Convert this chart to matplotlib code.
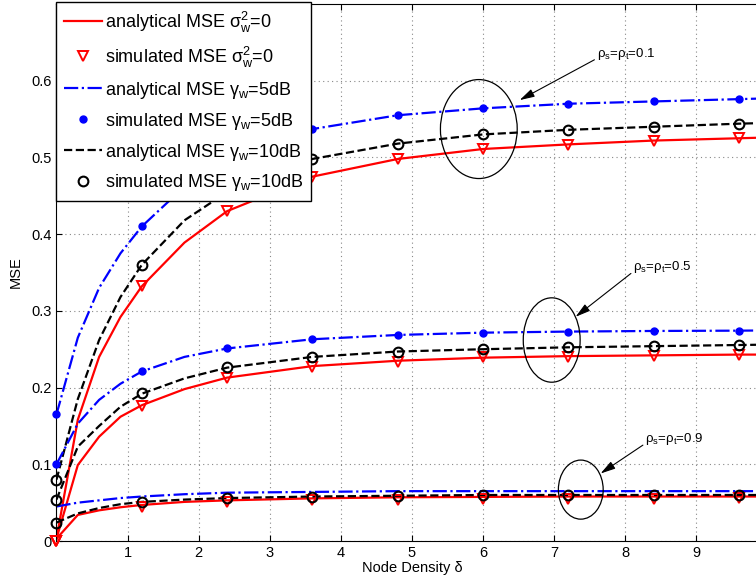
import numpy as np
import matplotlib
matplotlib.use("Agg")
import matplotlib.pyplot as plt
from matplotlib.patches import Ellipse

plt.rcParams["font.family"] = ["Liberation Sans", "DejaVu Sans"]
plt.rcParams["mathtext.fontset"] = "custom"
plt.rcParams["mathtext.rm"] = "Liberation Sans"
plt.rcParams["mathtext.it"] = "Liberation Sans"
plt.rcParams["mathtext.default"] = "regular"

# node density grid of the analytical curves
x_ana = [0, 0.3, 0.6, 0.9, 1.2, 1.8, 2.4, 3.6, 4.8, 6.0, 7.2, 8.4, 9.6, 10.0]
# node density of the simulated points
x_sim = [0, 1.2, 2.4, 3.6, 4.8, 6.0, 7.2, 8.4, 9.6]

# rho = 0.1
ana_noiseless_01 = [0.003, 0.158, 0.240, 0.292, 0.332, 0.389, 0.430, 0.475, 0.498, 0.511, 0.517, 0.522, 0.525, 0.526]
ana_10db_01 = [0.080, 0.185, 0.262, 0.318, 0.360, 0.418, 0.455, 0.498, 0.518, 0.530, 0.536, 0.540, 0.544, 0.545]
ana_5db_01 = [0.165, 0.265, 0.330, 0.375, 0.410, 0.462, 0.495, 0.537, 0.555, 0.564, 0.570, 0.573, 0.576, 0.577]
sim_noiseless_01 = [0.0, 0.332, 0.430, 0.475, 0.498, 0.511, 0.516, 0.522, 0.525]
sim_10db_01 = [0.080, 0.360, 0.455, 0.498, 0.518, 0.530, 0.536, 0.540, 0.544]
sim_5db_01 = [0.165, 0.410, 0.495, 0.537, 0.555, 0.564, 0.570, 0.573, 0.576]

# rho = 0.5
ana_noiseless_05 = [0.003, 0.099, 0.136, 0.162, 0.177, 0.198, 0.213, 0.228, 0.235, 0.239, 0.241, 0.242, 0.243, 0.243]
ana_10db_05 = [0.054, 0.123, 0.150, 0.175, 0.192, 0.212, 0.226, 0.240, 0.247, 0.250, 0.2525, 0.254, 0.2555, 0.256]
ana_5db_05 = [0.100, 0.153, 0.184, 0.205, 0.221, 0.240, 0.251, 0.263, 0.2686, 0.2716, 0.273, 0.2738, 0.2742, 0.2745]
sim_noiseless_05 = [0.0, 0.176, 0.213, 0.227, 0.234, 0.2395, 0.2403, 0.2412, 0.2425]
sim_10db_05 = [0.054, 0.1925, 0.2264, 0.240, 0.2468, 0.2503, 0.2525, 0.2542, 0.2555]
sim_5db_05 = [0.100, 0.2216, 0.2516, 0.263, 0.2686, 0.2716, 0.273, 0.2738, 0.2742]

# rho = 0.9
ana_noiseless_09 = [0.003, 0.034, 0.040, 0.044, 0.047, 0.051, 0.053, 0.0556, 0.057, 0.0575, 0.058, 0.058, 0.058, 0.058]
ana_10db_09 = [0.024, 0.036, 0.043, 0.048, 0.051, 0.054, 0.056, 0.058, 0.059, 0.060, 0.060, 0.060, 0.060, 0.060]
ana_5db_09 = [0.045, 0.050, 0.053, 0.056, 0.058, 0.061, 0.063, 0.064, 0.065, 0.065, 0.065, 0.065, 0.065, 0.065]
sim_noiseless_09 = [0.0, 0.044, 0.051, 0.053, 0.054, 0.055, 0.055, 0.055, 0.056]
sim_10db_09 = [0.024, 0.051, 0.0556, 0.0578, 0.059, 0.060, 0.060, 0.060, 0.060]

legend_labels = [
    "analytical MSE $\\sigma_w^2$=0",
    "simulated MSE $\\sigma_w^2$=0",
    "analytical MSE $\\gamma_w$=5dB",
    "simulated MSE $\\gamma_w$=5dB",
    "analytical MSE $\\gamma_w$=10dB",
    "simulated MSE $\\gamma_w$=10dB",
]
y_ticks = [0, 0.1, 0.2, 0.3, 0.4, 0.5, 0.6]
y_tick_labels = ["0", "0.1", "0.2", "0.3", "0.4", "0.5", "0.6"]
x_ticks = [1, 2, 3, 4, 5, 6, 7, 8, 9]

fig = plt.figure(figsize=(7.56, 5.88), dpi=100)
ax = fig.add_axes([0.0747, 0.0799, 0.9405, 0.9133])

lw = 1.6
red_tri = dict(marker="v", linestyle="none", markerfacecolor="none", markeredgecolor="red",
               markersize=7, markeredgewidth=1.4, clip_on=False, zorder=4)
blue_dot = dict(marker="o", linestyle="none", color="blue", markersize=5, clip_on=False, zorder=4)
black_circ = dict(marker="o", linestyle="none", markerfacecolor="none", markeredgecolor="black",
                  markersize=7, markeredgewidth=1.5, clip_on=False, zorder=4)

h1, = ax.plot(x_ana, ana_noiseless_01, color="red", lw=lw)
h2, = ax.plot(x_sim, sim_noiseless_01, **red_tri)
h3, = ax.plot(x_ana, ana_5db_01, color="blue", lw=lw, linestyle="-.")
h4, = ax.plot(x_sim, sim_5db_01, **blue_dot)
h5, = ax.plot(x_ana, ana_10db_01, color="black", lw=lw, linestyle="--")
h6, = ax.plot(x_sim, sim_10db_01, **black_circ)

ax.plot(x_ana, ana_noiseless_05, color="red", lw=lw)
ax.plot(x_sim, sim_noiseless_05, **red_tri)
ax.plot(x_ana, ana_5db_05, color="blue", lw=lw, linestyle="-.")
ax.plot(x_sim, sim_5db_05, **blue_dot)
ax.plot(x_ana, ana_10db_05, color="black", lw=lw, linestyle="--")
ax.plot(x_sim, sim_10db_05, **black_circ)

ax.plot(x_ana, ana_noiseless_09, color="red", lw=lw)
ax.plot(x_sim, sim_noiseless_09, **red_tri)
ax.plot(x_ana, ana_5db_09, color="blue", lw=lw, linestyle="-.")
ax.plot(x_ana, ana_10db_09, color="black", lw=lw, linestyle="--")
ax.plot(x_sim, sim_10db_09, **black_circ)

ax.set_xlim(0, 10)
ax.set_ylim(0, 0.7)
ax.set_xticks(x_ticks)
ax.set_yticks(y_ticks)
ax.set_yticklabels(y_tick_labels)
ax.tick_params(direction="in", top=True, right=True, length=4, labelsize=10.5)
ax.grid(True, linestyle=(0, (1, 3)), color="#888888", lw=0.8)
ax.set_xlabel("Node Density δ", fontsize=10.5, labelpad=1)
ax.set_ylabel("MSE", fontsize=10.5, labelpad=6)

# ellipses and arrows marking each correlation group
ellipses = [(5.94, 0.537, 1.08, 0.129), (6.965, 0.262, 0.80, 0.110), (7.374, 0.067, 0.63, 0.077)]
for cx, cy, w, h in ellipses:
    ax.add_patch(Ellipse((cx, cy), w, h, fill=False, edgecolor="black", lw=0.9, zorder=5))

notes = [("ρ$_s$=ρ$_t$=0.1", (6.48, 0.573), (7.60, 0.629)),
         ("ρ$_s$=ρ$_t$=0.5", (7.27, 0.290), (8.11, 0.351)),
         ("ρ$_s$=ρ$_t$=0.9", (7.62, 0.086), (8.28, 0.127))]
for txt, head, tail in notes:
    ax.annotate("", xy=head, xytext=tail,
                arrowprops=dict(arrowstyle="-|>,head_length=0.9,head_width=0.25", color="black", lw=0.8))
    ax.text(tail[0], tail[1] + 0.006, txt, fontsize=9.5, ha="left", va="center")

leg = ax.legend([h1, h2, h3, h4, h5, h6], legend_labels, loc="upper left",
                bbox_to_anchor=(0, 1.003), borderaxespad=0, fontsize=13,
                fancybox=False, framealpha=1, edgecolor="black",
                handlelength=2.1, handletextpad=0.2, labelspacing=0.55, borderpad=0.4)
leg.get_frame().set_linewidth(1.0)
leg.set_zorder(10)

fig.savefig("out.png", dpi=100)
